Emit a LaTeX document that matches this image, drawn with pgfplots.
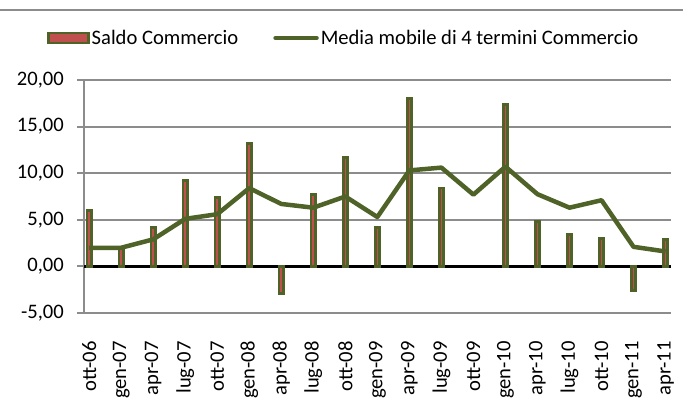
\documentclass[border=0pt]{standalone}
\usepackage{pgfplots}
\pgfplotsset{compat=1.18}
\usepackage{fontspec}
\setmainfont{Carlito}
\definecolor{barred}{HTML}{C0504D}
\definecolor{grn}{HTML}{4F6228}
\definecolor{gridgray}{HTML}{8C8C8C}
\newcommand{\fs}{\fontsize{20.6bp}{24bp}\selectfont}
\begin{document}
\begin{tikzpicture}
\path[use as bounding box] (0,0) rectangle (683bp,408bp);
\draw[gridgray, line width=2bp] (0,398bp) -- (683bp,398bp);
\begin{axis}[
  at={(84bp,95bp)}, anchor=south west,
  scale only axis, width=587bp, height=233bp,
  xmin=-0.16, xmax=18.17, ymin=-5, ymax=20,
  axis x line=bottom, axis y line=left,
  axis line style={-, gridgray, line width=2bp},
  ytick={-5,0,5,10,15,20},
  ymajorgrids, grid style={gridgray, line width=2bp},
  tick align=outside,
  ytick style={gridgray, line width=2bp},
  major tick length=7bp,
  xtick={0,...,18},
  xtick style={draw=none},
  xticklabels={ott-06,gen-07,apr-07,lug-07,ott-07,gen-08,apr-08,lug-08,ott-08,gen-09,apr-09,lug-09,ott-09,gen-10,apr-10,lug-10,ott-10,gen-11,apr-11},
  xticklabel style={rotate=90, anchor=east, inner sep=0pt, font=\fs},
  xticklabel shift=21bp,
  yticklabel style={anchor=east, inner sep=0pt, font=\fs},
  yticklabel shift=13bp,
  /pgf/number format/assume math mode=true,
  /pgf/number format/.cd, use comma, fixed, fixed zerofill, precision=2, /pgfplots/.cd,
  extra y ticks={0}, extra y tick labels={},
  extra y tick style={grid style={black, line width=3.5bp}, tick style={draw=none}},
  legend columns=2,
  legend style={draw=none, fill=none, at={(0,1)}, anchor=west, xshift=-37bp, yshift=42bp,
    font=\fs, inner sep=0pt, nodes={inner sep=2bp},
    /tikz/every even column/.append style={column sep=33bp}},
  clip=false,
]
\addplot[ybar, bar width=4.2bp, fill=barred, draw=grn, line width=2.6bp,
  legend image code/.code={\draw[fill=barred, draw=grn, line width=2.5bp] (0bp,-5bp) rectangle (40bp,5bp);}]
  coordinates {(0,6.0) (1,2.0) (2,4.2) (3,9.2) (4,7.4) (5,13.2) (6,-2.9) (7,7.7) (8,11.7) (9,4.2) (10,18.0) (11,8.4) (13,17.4) (14,4.8) (15,3.4) (16,3.0) (17,-2.6) (18,2.9)};
\addlegendentry{Saldo Commercio}
\addplot[grn, line width=4.5bp, line join=round, mark=none,
  legend image code/.code={\draw[grn, line width=4.5bp, line cap=round] (2bp,0bp) -- (43bp,0bp);}]
  coordinates {(0,2.0) (1,2.0) (2,2.9) (3,5.1) (4,5.6) (5,8.4) (6,6.7) (7,6.3) (8,7.5) (9,5.3) (10,10.3) (11,10.6) (12,7.7) (13,10.7) (14,7.75) (15,6.3) (16,7.1) (17,2.1) (18,1.6)};
\addlegendentry{Media mobile di 4 termini Commercio}
\end{axis}
\end{tikzpicture}
\end{document}
